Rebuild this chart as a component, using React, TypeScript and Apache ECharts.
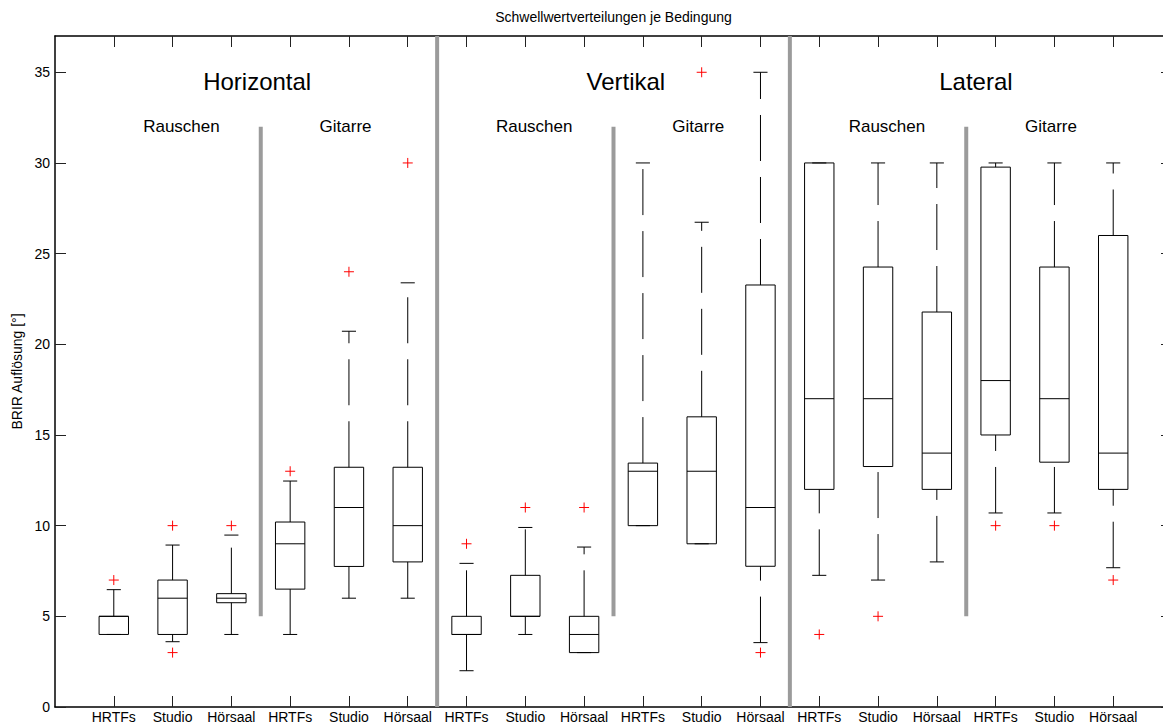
import React, { useEffect, useRef } from "react";
import * as echarts from "echarts";

// ---------- data ----------
const rooms = ["HRTFs", "Studio", "Hörsaal"];
const boxLabels = [
  "HRTFs", "Studio", "Hörsaal", "HRTFs", "Studio", "Hörsaal",
  "HRTFs", "Studio", "Hörsaal", "HRTFs", "Studio", "Hörsaal",
  "HRTFs", "Studio", "Hörsaal", "HRTFs", "Studio", "Hörsaal",
];
const boxPositions = boxLabels.map((_, i) => i + 1);

const whiskerLow = [4, 3.6, 4, 4, 6, 6, 2, 4, 3, 10, 9, 3.55, 7.26, 7, 8, 10.7, 10.7, 7.68];
const q1 = [4, 4, 5.75, 6.5, 7.75, 8, 4, 5, 3, 10, 9, 7.76, 12, 13.26, 12, 15, 13.5, 12];
const median = [5, 6, 6, 9, 11, 10, 4, 5, 4, 13, 13, 11, 17, 17, 14, 18, 17, 14];
const q3 = [5, 7, 6.25, 10.2, 13.22, 13.22, 5, 7.26, 5, 13.45, 16, 23.27, 30, 24.26, 21.78, 29.77, 24.26, 26];
const whiskerHigh = [6.47, 8.93, 9.48, 12.46, 20.72, 23.39, 7.92, 9.9, 8.82, 30, 26.73, 35, 30, 30, 30, 30, 30, 30];

const outlierX = [1, 2, 2, 3, 4, 5, 6, 7, 8, 9, 11, 12, 13, 14, 16, 17, 18];
const outlierY = [7, 10, 3, 10, 13, 24, 30, 9, 11, 11, 35, 3, 4, 5, 10, 10, 7];

const yTicks = [0, 5, 10, 15, 20, 25, 30, 35];

const conditions = ["Horizontal", "Vertikal", "Lateral"];
const conditionX = [2.52, 9.04, 15.04];
const conditionY = 34.5;
const stimuli = ["Rauschen", "Gitarre", "Rauschen", "Gitarre", "Rauschen", "Gitarre"];
const stimulusX = [1.5, 4.5, 7.5, 10.5, 13.5, 16.5];
const stimulusY = 32;

const mainSeparatorX = [6.5, 12.5];
const subSeparatorX = [3.5, 9.5, 15.5];
const subSeparatorRange = [5, 32];

const TITLE = "Schwellwertverteilungen je Bedingung";
const Y_NAME = "BRIR Auflösung [°]";
const FONT = "'Liberation Sans', Arial, Helvetica, sans-serif";

export default function App() {
  const ref = useRef<HTMLDivElement>(null);

  useEffect(() => {
    if (!ref.current) return;
    const chart = echarts.init(ref.current, null, { renderer: "svg" });

    const gridLeft = 55;
    const gridTop = 36;
    const gridWidth = 1117;
    const gridHeight = 671.5;

    const axisLineStyle = { color: "#000", width: 1.5 };
    const tickStyle = { color: "#222", width: 1 };

    const labelTexts = [...conditions, ...stimuli];
    const labelXs = [...conditionX, ...stimulusX];
    const labelYs = [...conditions.map(() => conditionY), ...stimuli.map(() => stimulusY)];
    const labelSizes = [...conditions.map(() => 24), ...stimuli.map(() => 17)];

    const separators = [
      ...mainSeparatorX.map((x) => [x, 0, 37]),
      ...subSeparatorX.map((x) => [x, subSeparatorRange[0], subSeparatorRange[1]]),
    ];

    const option: any = {
      animation: false,
      backgroundColor: "#fff",
      textStyle: { fontFamily: FONT },
      graphic: [
        {
          type: "text",
          x: gridLeft + gridWidth / 2,
          y: 17,
          style: {
            text: TITLE,
            font: `14px ${FONT}`,
            fill: "#000",
            align: "center",
            verticalAlign: "middle",
          },
        },
      ],
      grid: { left: gridLeft, top: gridTop, width: gridWidth, height: gridHeight, containLabel: false },
      xAxis: [
        {
          type: "value",
          min: 0,
          max: 19,
          position: "bottom",
          axisLine: { show: true, onZero: false, lineStyle: axisLineStyle },
          axisTick: { show: true, inside: true, length: 11, customValues: boxPositions, lineStyle: tickStyle },
          axisLabel: {
            show: true,
            customValues: boxPositions,
            formatter: (v: number) => boxLabels[Math.round(v) - 1] ?? "",
            margin: 3,
            color: "#000",
            fontSize: 14,
            fontFamily: FONT,
          },
          splitLine: { show: false },
        },
        {
          type: "value",
          min: 0,
          max: 19,
          position: "top",
          axisLine: { show: true, onZero: false, lineStyle: axisLineStyle },
          axisTick: { show: true, inside: true, length: 11, customValues: boxPositions, lineStyle: tickStyle },
          axisLabel: { show: false },
          splitLine: { show: false },
        },
      ],
      yAxis: [
        {
          type: "value",
          min: 0,
          max: 37,
          position: "left",
          name: Y_NAME,
          nameLocation: "middle",
          nameGap: 29,
          nameRotate: 90,
          nameTextStyle: { color: "#000", fontSize: 14, fontFamily: FONT },
          axisLine: { show: true, onZero: false, lineStyle: axisLineStyle },
          axisTick: { show: true, inside: true, length: 11, customValues: yTicks, lineStyle: tickStyle },
          axisLabel: {
            show: true,
            customValues: yTicks,
            margin: 5,
            color: "#000",
            fontSize: 14,
            fontFamily: FONT,
          },
          splitLine: { show: false },
        },
        {
          type: "value",
          min: 0,
          max: 37,
          position: "right",
          axisLine: { show: true, onZero: false, lineStyle: axisLineStyle },
          axisTick: { show: true, inside: true, length: 11, customValues: yTicks, lineStyle: tickStyle },
          axisLabel: { show: false },
          splitLine: { show: false },
        },
      ],
      series: [
        {
          type: "custom",
          name: "separators",
          xAxisIndex: 0,
          yAxisIndex: 0,
          clip: false,
          silent: true,
          data: separators,
          renderItem: (params: any, api: any) => {
            const x = api.value(0);
            const a = api.coord([x, api.value(1)]);
            const b = api.coord([x, api.value(2)]);
            return {
              type: "line",
              shape: { x1: a[0], y1: a[1], x2: b[0], y2: b[1] },
              style: { stroke: "#9b9b9b", lineWidth: 4 },
            };
          },
        },
        {
          type: "custom",
          name: "boxes",
          xAxisIndex: 0,
          yAxisIndex: 0,
          clip: false,
          silent: true,
          data: boxPositions.map((x, i) => [x, whiskerLow[i], q1[i], median[i], q3[i], whiskerHigh[i]]),
          renderItem: (params: any, api: any) => {
            const x = api.value(0);
            const pLo = api.coord([x, api.value(1)]);
            const pQ1 = api.coord([x, api.value(2)]);
            const pMed = api.coord([x, api.value(3)]);
            const pQ3 = api.coord([x, api.value(4)]);
            const pHi = api.coord([x, api.value(5)]);
            const cx = pLo[0];
            const halfW = api.size([0.5, 0])[0] / 2;
            const capHalf = api.size([0.24, 0])[0] / 2;
            const dash = [46, 16];
            const solid = { stroke: "#000", lineWidth: 1, fill: "none" };
            return {
              type: "group",
              children: [
                {
                  type: "line",
                  shape: { x1: cx, y1: pQ3[1], x2: cx, y2: pHi[1] },
                  style: { stroke: "#000", lineWidth: 1, lineDash: dash },
                },
                {
                  type: "line",
                  shape: { x1: cx, y1: pLo[1], x2: cx, y2: pQ1[1] },
                  style: { stroke: "#000", lineWidth: 1, lineDash: dash },
                },
                {
                  type: "line",
                  shape: { x1: cx - capHalf, y1: pHi[1], x2: cx + capHalf, y2: pHi[1] },
                  style: solid,
                },
                {
                  type: "line",
                  shape: { x1: cx - capHalf, y1: pLo[1], x2: cx + capHalf, y2: pLo[1] },
                  style: solid,
                },
                {
                  type: "rect",
                  shape: { x: cx - halfW, y: pQ3[1], width: 2 * halfW, height: pQ1[1] - pQ3[1] },
                  style: { stroke: "#000", lineWidth: 1, fill: "none" },
                },
                {
                  type: "line",
                  shape: { x1: cx - halfW, y1: pMed[1], x2: cx + halfW, y2: pMed[1] },
                  style: solid,
                },
              ],
            };
          },
        },
        {
          type: "custom",
          name: "outliers",
          xAxisIndex: 0,
          yAxisIndex: 0,
          clip: false,
          silent: true,
          data: outlierX.map((x, i) => [x, outlierY[i]]),
          renderItem: (params: any, api: any) => {
            const p = api.coord([api.value(0), api.value(1)]);
            const r = 5;
            const st = { stroke: "#ff0000", lineWidth: 1 };
            return {
              type: "group",
              children: [
                { type: "line", shape: { x1: p[0] - r, y1: p[1], x2: p[0] + r, y2: p[1] }, style: st },
                { type: "line", shape: { x1: p[0], y1: p[1] - r, x2: p[0], y2: p[1] + r }, style: st },
              ],
            };
          },
        },
        {
          type: "custom",
          name: "labels",
          xAxisIndex: 0,
          yAxisIndex: 0,
          clip: false,
          silent: true,
          data: labelXs.map((x, i) => [x, labelYs[i]]),
          renderItem: (params: any, api: any) => {
            const i = params.dataIndex;
            const p = api.coord([api.value(0), api.value(1)]);
            return {
              type: "text",
              x: p[0],
              y: p[1],
              style: {
                text: labelTexts[i],
                font: `${labelSizes[i]}px ${FONT}`,
                fill: "#000",
                align: "left",
                verticalAlign: "middle",
              },
            };
          },
        },
      ],
    };

    chart.setOption(option);
    return () => {
      chart.dispose();
    };
  }, []);

  return (
    <div
      style={{
        position: "fixed",
        left: 0,
        top: 0,
        width: 1163,
        height: 724,
        overflow: "hidden",
        background: "#fff",
      }}
    >
      <div ref={ref} style={{ width: 1180, height: 724 }} />
    </div>
  );
}
